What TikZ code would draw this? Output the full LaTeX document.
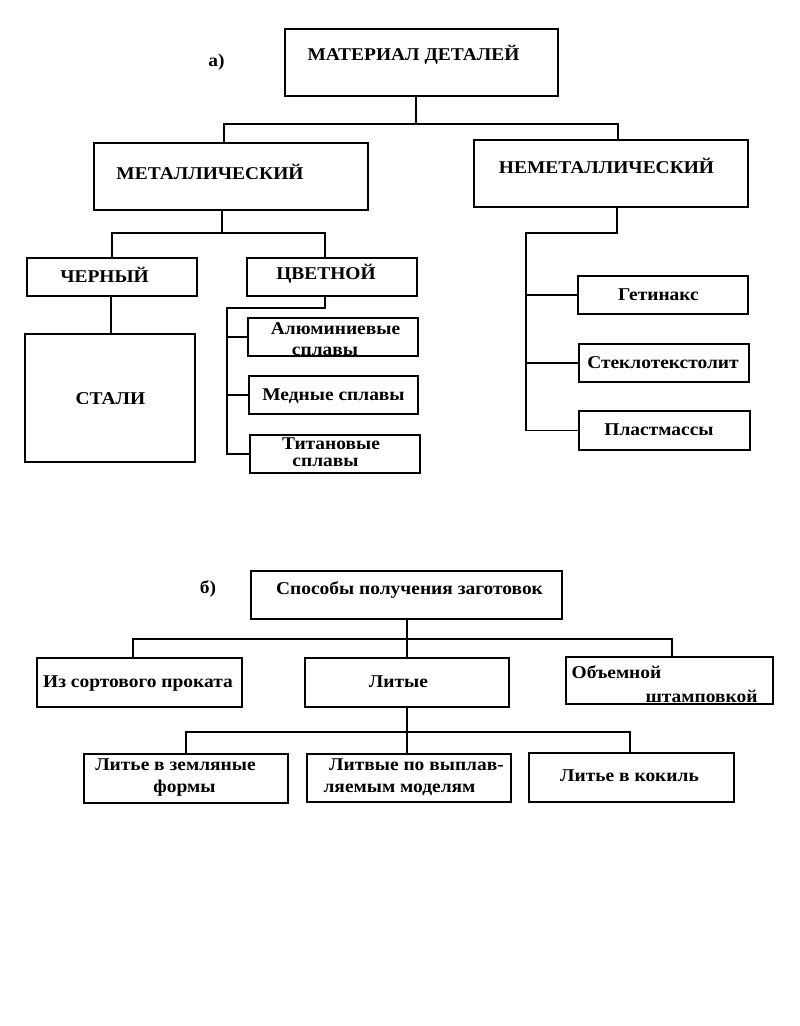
\documentclass[tikz,border=0pt]{standalone}
\usepackage{fontspec}
\setmainfont{Liberation Serif}[FakeStretch=1.08]
\begin{document}
\begin{tikzpicture}[x=1pt,y=-1pt,
  box/.style={draw,line width=1.6pt,inner sep=0pt,minimum width=#1},
  conn/.style={line width=1.6pt,line cap=rect},
  txt/.style={inner sep=0pt,anchor=base,font=\fontsize{18}{18}\selectfont\bfseries}]
\useasboundingbox (0,0) rectangle (800,1026);
% ---------- part a: boxes ----------
\node[box=273,minimum height=67] (mat) at (421.5,62.5) {};
\node[box=274,minimum height=67] (met) at (231,176.5) {};
\node[box=274,minimum height=67] (nem) at (611,173.5) {};
\node[box=170,minimum height=38] (cher) at (112,277) {};
\node[box=170,minimum height=38] (tsv) at (332,277) {};
\node[box=170,minimum height=128] (stali) at (110,398) {};
\node[box=170,minimum height=38] (alu) at (333,337) {};
\node[box=169,minimum height=38] (med) at (333.5,395) {};
\node[box=170,minimum height=38] (tit) at (335,454) {};
\node[box=170,minimum height=38] (get) at (663,295) {};
\node[box=170,minimum height=38] (stek) at (664,363) {};
\node[box=171,minimum height=39] (plast) at (664.5,430.5) {};
% ---------- part a: texts ----------
\node[txt] (la) at (216.5,66) {а)};
\node[txt] (tmat) at (413.5,60) {МАТЕРИАЛ ДЕТАЛЕЙ};
\node[txt] (tmet) at (210,179) {МЕТАЛЛИЧЕСКИЙ};
\node[txt] (tnem) at (606.5,173) {НЕМЕТАЛЛИЧЕСКИЙ};
\node[txt] (tcher) at (104.5,282) {ЧЕРНЫЙ};
\node[txt] (ttsv) at (326,279) {ЦВЕТНОЙ};
\node[txt] (tstali) at (110.5,404) {СТАЛИ};
\node[txt] (talu1) at (335.5,334) {Алюминиевые};
\node[txt] (talu2) at (325,355) {сплавы};
\node[txt] (tmed) at (333.5,400) {Медные сплавы};
\node[txt] (ttit1) at (331,449) {Титановые};
\node[txt] (ttit2) at (325.5,466.5) {сплавы};
\node[txt] (tget) at (658.5,300) {Гетинакс};
\node[txt] (tstek) at (663,368) {Стеклотекстолит};
\node[txt] (tplast) at (659,435) {Пластмассы};
% ---------- part a: connectors ----------
\coordinate (ja) at (416,124);
\coordinate (jal) at (224,124);
\coordinate (jar) at (618,124);
\draw[conn] (mat.south -| ja) -- (ja);
\draw[conn] (jal) -- (jar);
\draw[conn] (jal) -- (met.north -| jal);
\draw[conn] (jar) -- (nem.north -| jar);
\coordinate (jm) at (222,233);
\coordinate (jml) at (112,233);
\coordinate (jmr) at (325,233);
\draw[conn] (met.south -| jm) -- (jm);
\draw[conn] (jml) -- (jmr);
\draw[conn] (jml) -- (cher.north -| jml);
\draw[conn] (jmr) -- (tsv.north -| jmr);
\coordinate (jc) at (111,300);
\draw[conn] (cher.south -| jc) -- (stali.north -| jc);
\coordinate (jt) at (325,308);
\coordinate (jtl) at (227,308);
\draw[conn] (tsv.south -| jt) -- (jt) -- (jtl) -- (jtl |- tit.west) -- (tit.west);
\draw[conn] (jtl |- alu.west) -- (alu.west);
\draw[conn] (jtl |- med.west) -- (med.west);
\coordinate (jn) at (617,233);
\coordinate (jnl) at (526,233);
\draw[conn] (nem.south -| jn) -- (jn) -- (jnl) -- (jnl |- plast.west) -- (plast.west);
\draw[conn] (jnl |- get.west) -- (get.west);
\draw[conn] (jnl |- stek.west) -- (stek.west);
% ---------- part b: boxes ----------
\node[box=311,minimum height=48] (spos) at (406.5,595) {};
\node[box=205,minimum height=49] (iz) at (139.5,682.5) {};
\node[box=204,minimum height=49] (lit) at (407,682.5) {};
\node[box=207,minimum height=47] (ob) at (669.5,680.5) {};
\node[box=204,minimum height=49] (zem) at (186,778.5) {};
\node[box=204,minimum height=48] (vyp) at (409,778) {};
\node[box=205,minimum height=49] (kok) at (631.5,777.5) {};
% ---------- part b: texts ----------
\node[txt] (lb) at (208,593) {б)};
\node[txt] (tspos) at (409.5,594) {Способы получения заготовок};
\node[txt] (tiz) at (138,687) {Из сортового проката};
\node[txt] (tlit) at (398.5,687) {Литые};
\node[txt] (tob1) at (616.5,678) {Объемной};
\node[txt] (tob2) at (701.5,702) {штамповкой};
\node[txt] (tzem1) at (175.5,770) {Литье в земляные};
\node[txt] (tzem2) at (184.5,792) {формы};
\node[txt] (tvyp1) at (416.5,770) {Литвые по выплав-};
\node[txt] (tvyp2) at (399.5,792) {ляемым моделям};
\node[txt] (tkok) at (629.5,781) {Литье в кокиль};
% ---------- part b: connectors ----------
\coordinate (jb) at (407,639);
\coordinate (jbl) at (133,639);
\coordinate (jbr) at (672,639);
\draw[conn] (spos.south -| jb) -- (jb);
\draw[conn] (jbl) -- (jbr);
\draw[conn] (jbl) -- (iz.north -| jbl);
\draw[conn] (jb) -- (lit.north -| jb);
\draw[conn] (jbr) -- (ob.north -| jbr);
\coordinate (jl) at (407,732);
\coordinate (jll) at (186,732);
\coordinate (jlr) at (630,732);
\draw[conn] (lit.south -| jl) -- (jl);
\draw[conn] (jll) -- (jlr);
\draw[conn] (jll) -- (zem.north -| jll);
\draw[conn] (jl) -- (vyp.north -| jl);
\draw[conn] (jlr) -- (kok.north -| jlr);
\end{tikzpicture}
\end{document}
